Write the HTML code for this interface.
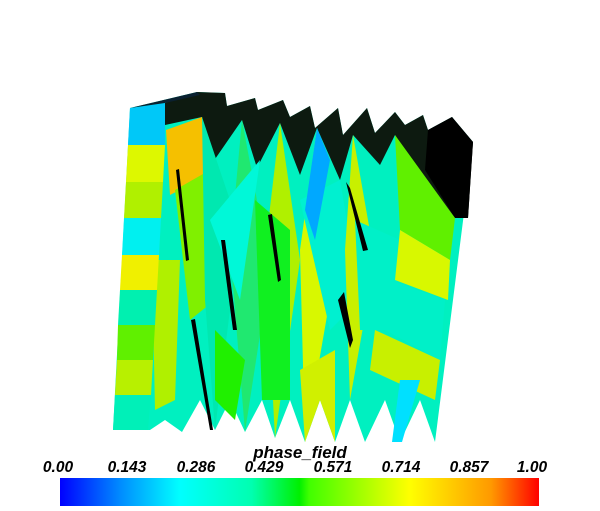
<!DOCTYPE html>
<html><head><meta charset="utf-8"><style>
html,body{margin:0;padding:0;background:#fff;}
svg{display:block;}
text{font-family:"Liberation Sans",sans-serif;font-weight:bold;font-style:italic;fill:#000;}
</style></head><body>
<svg width="600" height="511" viewBox="0 0 600 511">
<defs>
<linearGradient id="cmap" x1="0" x2="1" y1="0" y2="0">
<stop offset="0" stop-color="#0000ff"/>
<stop offset="0.13" stop-color="#0090ff"/>
<stop offset="0.25" stop-color="#00ffff"/>
<stop offset="0.4" stop-color="#00ffb0"/>
<stop offset="0.5" stop-color="#00f000"/>
<stop offset="0.52" stop-color="#40ff00"/>
<stop offset="0.73" stop-color="#ffff00"/>
<stop offset="0.9" stop-color="#ff9900"/>
<stop offset="1" stop-color="#ff0000"/>
</linearGradient>
</defs>
<g>
<polygon fill="#00f0c0" points="130,108 197,92 225,93 227,106 255,98 258,110 283,100 290,117 310,106 315,128 338,108 343,135 367,108 375,133 395,112 405,125 423,115 428,130 452,117 473,142 435,442 420,400 400,442 385,400 365,442 350,400 335,442 320,400 305,442 290,400 275,438 262,400 245,432 230,400 215,430 200,400 182,432 165,420 150,430 113,430"/>
<polygon fill="#0d1a10" points="165,103 197,92 225,93 227,106 255,98 258,110 283,100 290,117 310,106 315,128 338,108 343,135 367,108 375,133 395,112 405,125 423,115 428,130 452,117 473,142 468,218 455,218 420,175 395,135 380,165 353,135 340,180 317,128 300,175 280,123 257,168 242,120 213,162 202,117 165,125"/>
<polygon fill="#000" points="428,130 452,117 473,142 468,218 455,218 425,170"/>
<polygon fill="#f5c000" points="166,130 202,117 208,175 170,195"/>
<polygon fill="#80f000" points="175,190 210,170 215,300 190,320"/>
<polygon fill="#00e8b0" points="202,117 240,230 215,430 205,300"/>
<polygon fill="#20e870" points="242,120 270,270 245,432 230,250"/>
<polygon fill="#00f8d8" points="210,220 260,160 240,300"/>
<polygon fill="#b0f000" points="280,123 300,260 275,438 265,250"/>
<polygon fill="#10f020" points="255,200 290,230 290,400 262,400"/>
<polygon fill="#d8f800" points="317,128 335,270 305,442 300,250"/>
<polygon fill="#00f0d0" points="300,200 340,180 360,300 330,330"/>
<polygon fill="#00a8ff" points="317,128 330,160 315,240 305,210"/>
<polygon fill="#c8f000" points="353,135 375,260 350,400 345,250"/>
<polygon fill="#00f0c8" points="355,220 400,240 395,330 360,330"/>
<polygon fill="#60f000" points="395,135 455,218 450,260 400,230"/>
<polygon fill="#d8f800" points="400,230 450,260 448,300 395,280"/>
<polygon fill="#00f0c8" points="390,280 445,300 440,360 385,330"/>
<polygon fill="#c8f000" points="375,330 440,360 435,400 370,370"/>
<polygon fill="#00e0ff" points="400,380 420,380 402,442 392,442"/>
<polygon fill="#20f000" points="215,330 245,360 235,420 215,400"/>
<polygon fill="#d0f000" points="300,370 335,350 335,442 320,400 305,442"/>
<polygon fill="#b0f000" points="152,260 180,260 175,400 155,410"/>
<polygon fill="#000" points="176,170 179,169 189,260 186,261"/>
<polygon fill="#000" points="191,320 195,319 213,430 210,430"/>
<polygon fill="#000" points="268,215 272,214 281,280 278,282"/>
<polygon fill="#000" points="338,300 344,292 353,340 350,348"/>
<polygon fill="#000" points="346,182 350,188 368,250 363,251"/>
<polygon fill="#000" points="221,240 225,240 237,330 233,330"/>
<polygon fill="#00c8f8" points="130,108 165,103 165,145 128,145"/>
<polygon fill="#ddf800" points="128,145 165,145 163,182 126,182"/>
<polygon fill="#b0f000" points="126,182 163,182 161,218 124,218"/>
<polygon fill="#00f0f0" points="124,218 161,218 159,255 122,255"/>
<polygon fill="#f0f000" points="122,255 159,255 157,290 120,290"/>
<polygon fill="#00f0b0" points="120,290 157,290 155,325 118,325"/>
<polygon fill="#60f000" points="118,325 155,325 153,360 117,360"/>
<polygon fill="#b8f000" points="117,360 153,360 151,395 115,395"/>
<polygon fill="#00f0b8" points="115,395 151,395 148,430 113,430"/>
<polygon fill="#0a2030" points="130,108 197,92 200,95 165,103"/>
</g>
<text x="300" y="458" font-size="17" text-anchor="middle">phase_field</text>
<g font-size="15.5">
<text x="58" y="472" text-anchor="middle">0.00</text>
<text x="127" y="472" text-anchor="middle">0.143</text>
<text x="196" y="472" text-anchor="middle">0.286</text>
<text x="264" y="472" text-anchor="middle">0.429</text>
<text x="333" y="472" text-anchor="middle">0.571</text>
<text x="401" y="472" text-anchor="middle">0.714</text>
<text x="469" y="472" text-anchor="middle">0.857</text>
<text x="532" y="472" text-anchor="middle">1.00</text>
</g>
<rect x="60" y="478" width="479" height="28" fill="url(#cmap)"/>
</svg>
</body></html>
